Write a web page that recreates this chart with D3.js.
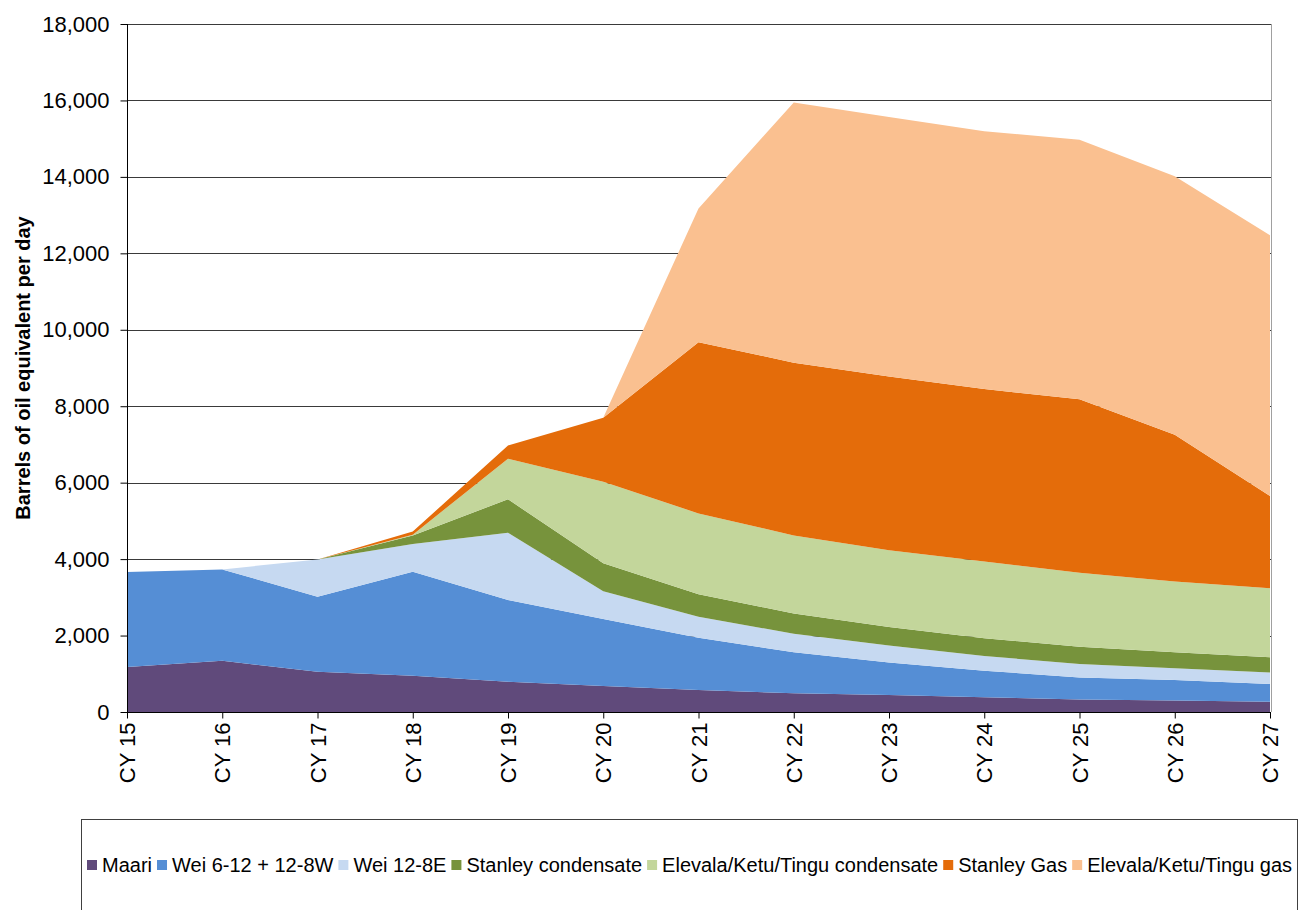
<!DOCTYPE html>
<html>
<head>
<meta charset="utf-8">
<script src="https://cdn.jsdelivr.net/npm/d3@7"></script>
<style>
  body { margin: 0; background: #fff; }
  text { font-family: Arial, "Liberation Sans", sans-serif; fill: #000; }
</style>
</head>
<body>
<div id="chart"></div>
<script>
// categories along the x axis
var years = ["CY 15", "CY 16", "CY 17", "CY 18", "CY 19", "CY 20", "CY 21",
             "CY 22", "CY 23", "CY 24", "CY 25", "CY 26", "CY 27"];

// series values, barrels of oil equivalent per day
var maari        = [1180, 1340, 1050,  950,  790,  680,  575,  490,  445,  385,  330,  300,  270];
var wei612       = [2480, 2390, 1965, 2720, 2140, 1750, 1365, 1075,  850,  695,  575,  540,  460];
var wei128e      = [   0,    0,  975,  725, 1760,  730,  555,  480,  445,  385,  350,  305,  305];
var stanleyCond  = [   0,    0,    0,  225,  875,  730,  585,  535,  485,  465,  455,  420,  395];
var elevalaCond  = [   0,    0,    0,   20, 1060, 2135, 2115, 2040, 2005, 2005, 1935, 1850, 1805];
var stanleyGas   = [   0,    0,    0,   80,  350, 1675, 4480, 4520, 4550, 4515, 4535, 3840, 2415];
var elevalaGas   = [   0,    0,    0,    0,    0,    0, 3500, 6805, 6790, 6745, 6790, 6760, 6820];

var seriesNames = ["Maari", "Wei 6-12 + 12-8W", "Wei 12-8E", "Stanley condensate",
                   "Elevala/Ketu/Tingu condensate", "Stanley Gas", "Elevala/Ketu/Tingu gas"];
var seriesValues = [maari, wei612, wei128e, stanleyCond, elevalaCond, stanleyGas, elevalaGas];
var seriesColors = ["#604A7B", "#558ED5", "#C6D9F1", "#77933C", "#C3D69B", "#E46C0A", "#FAC090"];

var yTicks = [0, 2000, 4000, 6000, 8000, 10000, 12000, 14000, 16000, 18000];

var width = 1300, height = 910;
var plotLeft = 127, plotRight = 1270, plotTop = 24, plotBottom = 712;

var svg = d3.select("#chart").append("svg")
    .attr("width", width)
    .attr("height", height);

var x = d3.scalePoint().domain(years).range([plotLeft, plotRight]);
var y = d3.scaleLinear().domain([0, 18000]).range([plotBottom, plotTop]);

// build rows for the stack
var rows = years.map(function(yr, i) {
    var r = { year: yr };
    seriesNames.forEach(function(n, j) { r[n] = seriesValues[j][i]; });
    return r;
});
var stacked = d3.stack().keys(seriesNames)(rows);

// gridlines
svg.append("g")
    .selectAll("line")
    .data(yTicks.filter(function(d) { return d > 0; }))
    .enter().append("line")
    .attr("x1", plotLeft).attr("x2", plotRight + 1)
    .attr("y1", function(d) { return Math.round(y(d)) + 0.5; })
    .attr("y2", function(d) { return Math.round(y(d)) + 0.5; })
    .attr("stroke", "#3a3a3a")
    .attr("stroke-width", 1);

// plot area right border
svg.append("line")
    .attr("x1", plotRight + 1.5).attr("x2", plotRight + 1.5)
    .attr("y1", plotTop).attr("y2", plotBottom)
    .attr("stroke", "#a0a0a0");

var area = d3.area()
    .x(function(d) { return x(d.data.year); })
    .y0(function(d) { return y(d[0]); })
    .y1(function(d) { return y(d[1]); });

svg.append("g")
    .selectAll("path")
    .data(stacked)
    .enter().append("path")
    .attr("d", area)
    .attr("fill", function(d, i) { return seriesColors[i]; });

// y axis
var yAxis = svg.append("g")
    .attr("transform", "translate(" + (plotLeft + 0.5) + ",0)")
    .call(d3.axisLeft(y).tickValues(yTicks).tickSize(7).tickPadding(11)
        .tickFormat(d3.format(",")));
yAxis.select(".domain").attr("stroke", "#000").attr("d", "M0," + plotTop + "V" + plotBottom);
yAxis.selectAll(".tick line").attr("stroke", "#000");
yAxis.selectAll("text")
    .style("font-size", "22px")
    .attr("fill", "#000");

// x axis
var xAxis = svg.append("g")
    .attr("transform", "translate(0," + (plotBottom + 0.5) + ")")
    .call(d3.axisBottom(x).tickSize(6).tickPadding(0));
xAxis.select(".domain").attr("stroke", "#000").attr("d", "M" + plotLeft + ",0H" + (plotRight + 1));
xAxis.selectAll(".tick line").attr("stroke", "#000");
xAxis.selectAll("text")
    .style("font-size", "22px")
    .attr("fill", "#000")
    .attr("text-anchor", "end")
    .attr("transform", "rotate(-90)")
    .attr("x", -10)
    .attr("y", 0)
    .attr("dy", "0.35em");

// y axis title
svg.append("text")
    .attr("transform", "translate(30,368) rotate(-90)")
    .attr("text-anchor", "middle")
    .style("font-size", "20px")
    .style("font-weight", "bold")
    .text("Barrels of oil equivalent per day");

// legend box
svg.append("rect")
    .attr("x", 81.5).attr("y", 819.5)
    .attr("width", 1216).attr("height", 140)
    .attr("fill", "none")
    .attr("stroke", "#404040");

var legend = svg.append("g");
var lx = 87;
seriesNames.forEach(function(n, i) {
    legend.append("rect")
        .attr("x", lx).attr("y", 860)
        .attr("width", 10).attr("height", 10)
        .attr("fill", seriesColors[i]);
    var t = legend.append("text")
        .attr("x", lx + 15).attr("y", 872)
        .style("font-size", "20px")
        .text(n);
    lx += 15 + t.node().getComputedTextLength() + 5;
});
</script>
</body>
</html>
